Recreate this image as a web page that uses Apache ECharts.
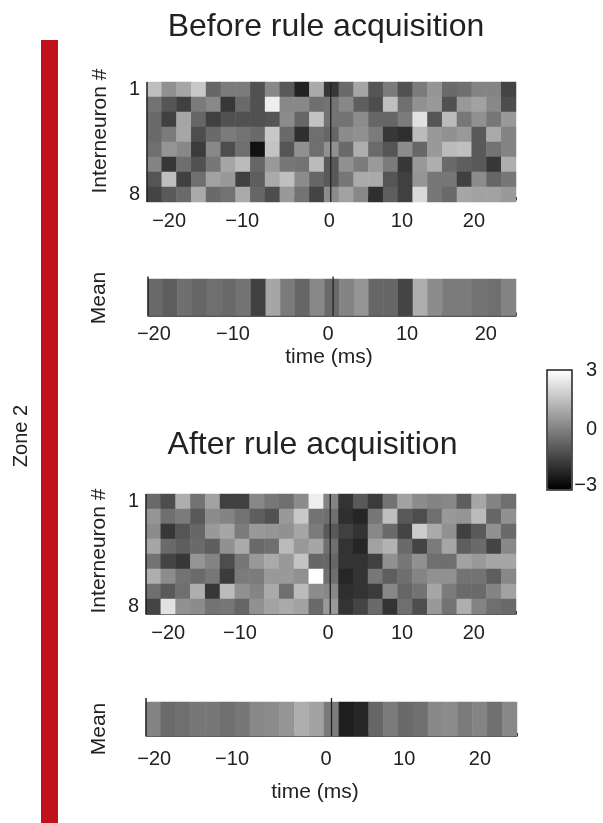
<!DOCTYPE html>
<html><head><meta charset="utf-8">
<style>html,body{margin:0;padding:0;background:#fff}#c{width:603px;height:823px}</style>
<script src="https://cdn.jsdelivr.net/npm/echarts@6/dist/echarts.min.js"></script>
</head><body><div id="c"></div>
<script>
const timeBins=['-24','-22','-20','-18','-16','-14','-12','-10','-8','-6','-4','-2','0','2','4','6','8','10','12','14','16','18','20','22','24'];
const neurons=['1','2','3','4','5','6','7','8'];
const tickLabels=['\u221220','\u221210','0','10','20'];
const scaleLabels=['3','0','\u22123'];
const before=[
[1.5,.4,.9,1.7,-.6,-.1,-.1,-1.1,.2,-.9,-2.2,1.0,-1.7,-.5,.9,-1.0,-.1,-1.1,-.1,.5,-.5,-.4,.1,.1,-1.4],
[-.3,-1,-1.5,-.1,.2,-1.7,-.5,-1.1,2.6,.2,.2,-.4,-.3,.2,-.8,-1.2,1.5,-.4,.4,.6,-1.1,.6,.8,.2,-1.2],
[-.5,-1.5,.9,-.6,-1.5,-1.1,-1.1,-1.1,-1,.3,-.6,1.6,-.3,-.3,.3,-.6,-.6,-.1,2.3,-1,1.4,-.2,.4,-.2,.6],
[-.5,-.1,.9,-1.2,-.5,-.1,-.3,-.5,1.7,-.5,-1.9,-.4,-.6,.3,.4,-.1,-1.7,-1.9,1.4,.6,.4,.6,-.9,1,.1],
[-.4,.5,.2,-1.6,.2,-1.2,-.4,-2.6,1.6,-1,.4,-.4,.4,-.5,1.1,-.5,-1,.3,-.6,.6,1.4,1.5,-.9,-.3,.1],
[.1,-1.7,-.4,-1.1,-.2,.9,1.4,-.6,.6,-.2,-.3,1.4,-.9,.4,-.1,.6,-.1,-1.7,.6,1.1,-.5,-.8,-.9,-1.7,1.1],
[-1,1.5,-1.5,-.4,.8,.6,-1.5,-.8,1,1.5,.3,-.6,-.9,-.2,1,1,-1,-1.5,.5,-.2,-.2,-1.5,.3,-.6,-.2],
[-1.4,-.9,-.5,1,-.5,-.3,1,-.6,-1.2,.6,-.3,-1.4,.3,.8,.2,-1.9,-.8,-1.5,2.1,-.2,-.5,.9,.8,.8,.6]];
const beforeMean=[-.5,-.8,-.4,-.6,-.4,-.5,-.3,-1.5,.9,-.1,-.6,.2,-.5,.1,.5,-.6,-.6,-1.4,1.1,.3,-.1,-.1,-.3,-.4,.1];
const after=[
[-.5,-1.2,1.1,-.3,.8,-1.5,-1.5,.2,-.2,-.4,.3,2.6,.1,-1.8,-.9,-1.6,-.3,.8,.3,.1,.2,-.8,.9,.1,-.4],
[.5,-.4,-.1,-.9,.3,.1,-.3,-.8,-1.1,.6,1.7,-.3,-.4,-1.9,-2.1,-.2,1.5,-.9,-1.2,-.4,.6,.5,1.4,-.6,.4],
[.3,-1.7,-1,-.6,.6,.9,-.1,.6,.5,.4,.9,-.1,-.9,-1.5,-1.8,.2,-.5,-1.4,1.8,1,.4,-1.5,-.9,.4,-.5],
[.9,-.5,-.8,-.5,-.8,.4,1,-.5,-.4,1.4,.6,.9,-.4,-1.8,-2.1,.8,1.2,-.5,-1.4,-.1,.9,-.8,-.5,-1.4,.2],
[-.3,-1.4,-1.7,.5,.1,-1.2,-.2,.6,1,.6,1.6,-.6,-.6,-1.8,-1.8,-1.5,.4,-.2,.4,-.4,-.4,.8,.6,.9,.9],
[1.1,.3,-.3,-.5,-.2,-1.6,-.1,-.1,.6,.6,.4,3,-.4,-2.1,-1.8,-.2,-.8,-.4,.1,.4,.4,-.3,-.3,-.8,.2],
[-.4,-.9,-.4,1.1,-1.7,1.4,.4,.1,1,-.4,1.4,.3,.2,-1.9,-1.8,-1.6,.2,-.6,-.3,.9,-.1,-.5,-.5,.1,.8],
[-1.4,2.3,.4,.3,-.3,-.2,-.6,.4,.8,1,.8,-.5,.6,-1.8,-1.4,-.5,-1.8,-.4,-1.2,.6,-.3,1.1,.1,-.4,-.5]];
const afterMean=[.1,-.5,-.4,-.2,-.2,-.4,-.2,.2,.3,.5,1.1,.8,-.1,-2.3,-2.1,-.6,-.1,-.5,-.4,.2,.3,-.1,.1,-.4,.2];

const FONT='"Liberation Sans",Arial,sans-serif', INK='#231f20', TXT='#222';
const panels=[
 {rows:before,cats:neurons,x0:147,x1:516,top:82,h:120,axisOff:-2,margin:11,zero:-.1,ext:1,labelAt:[-22,-12.1,-.3,9.55,19.3],shift:0},
 {rows:[beforeMean],cats:['mean'],x0:148,x1:516,top:279,h:36.5,axisOff:0,margin:9,zero:.15,ext:1.07,labelAt:[-24.2,-13.45,-.54,10.2,20.9],shift:0},
 {rows:after,cats:neurons,x0:146,x1:516,top:494,h:120,axisOff:0,margin:9,zero:-.1,ext:1,labelAt:[-22,-12.3,-.4,9.6,19.3],shift:14},
 {rows:[afterMean],cats:['mean'],x0:146,x1:517,top:702,h:34,axisOff:0,margin:13,zero:0,ext:1.12,labelAt:[-23.9,-13.4,-.74,9.8,20],shift:0}
];
const grid=[],xAxis=[],yAxis=[],series=[];
panels.forEach((p,i)=>{
  grid.push({left:p.x0,top:p.top,width:p.x1-p.x0,height:p.h});
  const a=xAxis.length,b=yAxis.length;
  xAxis.push({type:'category',gridIndex:i,data:timeBins,position:'bottom',axisLine:{show:false},axisTick:{show:false},axisLabel:{show:false},splitLine:{show:false}});
  xAxis.push({type:'value',gridIndex:i,min:-25,max:25,interval:5,position:'bottom',offset:p.axisOff,
    axisLine:{show:true,lineStyle:{color:INK,width:1.5}},
    axisTick:{show:true,inside:true,length:3,lineStyle:{color:INK,width:1}},
    axisLabel:{show:true,customValues:p.labelAt,hideOverlap:false,margin:p.margin,fontFamily:FONT,fontSize:20,color:TXT,formatter:(v,idx)=>tickLabels[p.labelAt.indexOf(v)]},
    splitLine:{show:false}});
  yAxis.push({type:'category',gridIndex:i,data:p.cats,inverse:true,axisLine:{show:false},axisTick:{show:false},
    axisLabel:{show:p.cats.length>1,interval:0,margin:7,fontFamily:FONT,fontSize:20,color:TXT,padding:[0,0,p.shift,0],
      formatter:v=>(v==='1'||v==='8')?v:''},splitLine:{show:false}});
  yAxis.push({type:'value',gridIndex:i,min:0,max:1,show:false,splitLine:{show:false}});
  const data=[];
  p.rows.forEach((r,ry)=>r.forEach((v,cx)=>data.push([cx,ry,v])));
  series.push({type:'heatmap',xAxisIndex:a,yAxisIndex:b,data,progressive:0,animation:false,itemStyle:{borderWidth:0},emphasis:{disabled:true}});
  series.push({type:'line',xAxisIndex:a+1,yAxisIndex:b+1,data:[[p.zero,0],[p.zero,p.ext]],symbol:'none',clip:false,silent:true,z:5,animation:false,lineStyle:{color:INK,width:1.3}});
  series.push({type:'line',xAxisIndex:a+1,yAxisIndex:b+1,data:[[-25,0],[-25,p.ext]],symbol:'none',clip:false,silent:true,z:5,animation:false,lineStyle:{color:INK,width:1.5}});
});
// colour-scale frame and labels
const cbi=grid.length;
grid.push({left:547,top:370,width:25,height:120,show:true,backgroundColor:'transparent',borderColor:INK,borderWidth:1.5,z:10});
xAxis.push({type:'value',gridIndex:cbi,show:false,min:0,max:1});
const scaleAt=[3,0.05,-2.75];
yAxis.push({type:'value',gridIndex:cbi,min:-3,max:3,position:'right',axisLine:{show:false},axisTick:{show:false},splitLine:{show:false},
  axisLabel:{customValues:scaleAt,align:'right',margin:25,hideOverlap:false,fontFamily:FONT,fontSize:20,color:TXT,formatter:v=>scaleLabels[scaleAt.indexOf(v)]}});

const rotText=(x,y,text,size)=>({type:'text',x,y,rotation:Math.PI/2,style:{text,fontFamily:FONT,fontSize:size,fill:TXT,align:'center',verticalAlign:'middle'}});
const hText=(x,y,text,size)=>({type:'text',x,y,style:{text,fontFamily:FONT,fontSize:size,fill:TXT,align:'center',verticalAlign:'middle'}});
const chart=echarts.init(document.getElementById('c'),null,{renderer:'canvas'});
chart.setOption({
  animation:false,backgroundColor:'#fff',
  title:[
    {text:'Before rule acquisition',left:326,top:11,textAlign:'center',padding:0,textStyle:{fontFamily:FONT,fontSize:32,fontWeight:'normal',color:TXT}},
    {text:'After rule acquisition',left:312.5,top:429,textAlign:'center',padding:0,textStyle:{fontFamily:FONT,fontSize:32,fontWeight:'normal',color:TXT}}
  ],
  grid,xAxis,yAxis,series,
  visualMap:{type:'continuous',min:-3,max:3,seriesIndex:[0,3,6,9],calculable:false,realtime:false,left:547.5,top:370.5,itemWidth:24,itemHeight:119,padding:0,text:null,inRange:{color:['#000000','#ffffff']},z:9,silent:true},
  graphic:[
    {type:'rect',shape:{x:41,y:40,width:17,height:783},style:{fill:'#c1121c'}},
    rotText(21,436,'Zone 2',20),
    rotText(100.5,131,'Interneuron #',21),
    rotText(99.5,298,'Mean',21),
    hText(329,357,'time (ms)',21),
    rotText(99.5,551,'Interneuron #',21),
    rotText(99.5,729,'Mean',21),
    hText(315,792,'time (ms)',21)
  ]
});
</script></body></html>
